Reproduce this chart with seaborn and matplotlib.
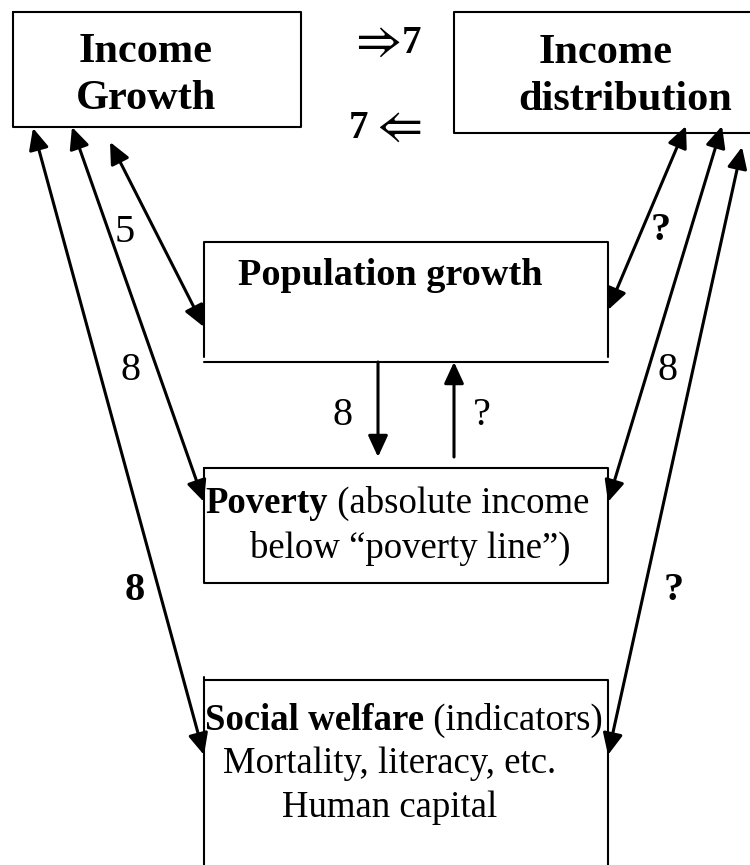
import matplotlib
matplotlib.use("Agg")
import matplotlib.pyplot as plt
from matplotlib.patches import FancyArrowPatch
import seaborn as sns

# Node texts
growth_lines = ["Income", "Growth"]
distrib_lines = ["Income", "distribution"]
population_label = "Population growth"
poverty_bold = "Poverty"
poverty_rest = [" (absolute income", "below \u201cpoverty line\u201d)"]
welfare_bold = "Social welfare"
welfare_rest = [" (indicators)", "Mortality, literacy, etc.", "Human capital"]

# Edge labels (text, bold?)
left_labels = [("5", False), ("8", False), ("8", True)]
right_labels = [("?", True), ("8", False), ("?", True)]
vertical_labels = ["8", "?"]
top_arrows = [(r"$\Rightarrow$", "7"), ("7", r"$\Leftarrow$")]

# Layout in pixel coordinates (y grows downward)
growth_box = (13, 12, 301, 127)
pop_box = (204, 242, 608, 362)
pov_box = (204, 468, 608, 583)
welf_top = 680
left_starts = [(110, 142), (72, 127), (33, 128)]
left_ends = [(204, 327), (204, 502), (204, 755)]
right_starts = [(686, 126), (722, 126), (742, 147)]
right_ends = [(608, 310), (608, 502), (608, 755)]
left_label_pos = [(125, 242), (131, 380), (135, 600)]
right_label_pos = [(661, 240), (668, 380), (674, 600)]

sns.set_theme(style="white")
plt.rcParams["font.family"] = ["Liberation Serif", "DejaVu Sans"]
plt.rcParams["text.color"] = "black"

fig = plt.figure(figsize=(7.5, 8.65), dpi=100)
ax = fig.add_axes([0, 0, 1, 1])
ax.set_xlim(0, 750)
ax.set_ylim(865, 0)
ax.axis("off")

box_lw = 1.5


def seg(xs, ys):
    sns.lineplot(x=xs, y=ys, color="black", linewidth=box_lw, sort=False,
                 estimator=None, ax=ax)


# Income Growth box
x0, y0, x1, y1 = growth_box
seg([x0, x1, x1, x0, x0], [y0, y0, y1, y1, y0])
# Income distribution box (open to the right)
seg([750, 454, 454, 750], [12, 12, 133, 133])
# Population growth box (bottom line drawn apart)
x0, y0, x1, y1 = pop_box
seg([x0, x0, x1, x1], [357, y0, y0, 357])
seg([x0, x1], [y1, y1])
# Poverty box
x0, y0, x1, y1 = pov_box
seg([x0, x1, x1, x0, x0], [y0, y0, y1, y1, y0])
# Social welfare box (open at the bottom)
seg([204, 204], [865, 677])
seg([204, 608, 608], [welf_top, welf_top, 865])

# Node texts
big = 30.5
mid = 26.5
ax.text(146, 62, growth_lines[0], ha="center", va="baseline", fontsize=big, fontweight="bold")
ax.text(146, 109, growth_lines[1], ha="center", va="baseline", fontsize=big, fontweight="bold")
ax.text(539, 63, distrib_lines[0], ha="left", va="baseline", fontsize=big, fontweight="bold")
ax.text(518, 110, distrib_lines[1], ha="left", va="baseline", fontsize=big, fontweight="bold")
ax.text(238, 285, population_label, ha="left", va="baseline", fontsize=27.5, fontweight="bold")

t = ax.text(205, 513, poverty_bold, ha="left", va="baseline", fontsize=mid, fontweight="bold")
ax.annotate(poverty_rest[0], xy=(1, 0), xycoords=t, ha="left", va="bottom", fontsize=mid)
ax.text(250, 558, poverty_rest[1], ha="left", va="baseline", fontsize=mid)

t = ax.text(205, 730, welfare_bold, ha="left", va="baseline", fontsize=mid, fontweight="bold")
ax.annotate(welfare_rest[0], xy=(1, 0), xycoords=t, ha="left", va="bottom", fontsize=mid)
ax.text(223, 773, welfare_rest[1], ha="left", va="baseline", fontsize=mid)
ax.text(282, 817, welfare_rest[2], ha="left", va="baseline", fontsize=mid)

# Top arrow glyphs between the income boxes
ax.text(401, 55, top_arrows[0][0], ha="right", va="baseline", fontsize=36,
        math_fontfamily="stix")
ax.text(402, 53, top_arrows[0][1], ha="left", va="baseline", fontsize=28, fontweight="bold")
ax.text(349, 138, top_arrows[1][0], ha="left", va="baseline", fontsize=28, fontweight="bold")
ax.text(369, 140, top_arrows[1][1], ha="left", va="baseline", fontsize=36,
        math_fontfamily="stix")


def arrow(p, q, style):
    ax.add_patch(FancyArrowPatch(p, q, arrowstyle=style, mutation_scale=10,
                                 shrinkA=0, shrinkB=0, color="black", lw=2.2))


style2 = "<|-|>,head_length=1.3,head_width=0.6"
style1 = "-|>,head_length=1.3,head_width=0.6"
for p, q in zip(left_starts, left_ends):
    arrow(p, q, style2)
for p, q in zip(right_starts, right_ends):
    arrow(p, q, style2)
arrow((378, 362), (378, 457), style1)
arrow((454, 457), (454, 362), style1)

for (lab, b), (x, y) in zip(left_labels + right_labels, left_label_pos + right_label_pos):
    ax.text(x, y, lab, ha="center", va="baseline", fontsize=29,
            fontweight="bold" if b else "normal")
ax.text(343, 425, vertical_labels[0], ha="center", va="baseline", fontsize=29)
ax.text(482, 425, vertical_labels[1], ha="center", va="baseline", fontsize=29)

fig.savefig("out.png", dpi=100, facecolor="white")
